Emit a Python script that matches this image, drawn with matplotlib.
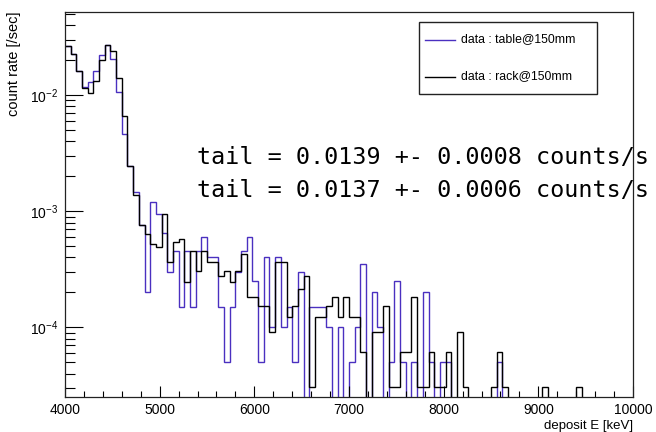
import numpy as np
import matplotlib
matplotlib.use("Agg")
import matplotlib.pyplot as plt
from matplotlib.patches import Rectangle
from matplotlib.lines import Line2D
from matplotlib.ticker import LogLocator, FixedLocator, LogFormatterSciNotation

# ---------------- data ----------------
e_min, e_max, n_bins = 4000.0, 10000.0, 100          # deposit energy binning [keV]

# counts per 60 keV bin, table@150mm (live time in s)
table_livetime = 19880.0
table_counts = [525, 447, 322, 235, 258, 322, 439, 537, 404, 213,
                92, 49, 29, 15, 4, 24, 19, 13, 6, 9,
                3, 9, 3, 9, 12, 8, 8, 3, 1, 3,
                6, 9, 12, 5, 1, 8, 2, 8, 2, 3,
                1, 6, 0, 3, 3, 3, 2, 0, 2, 0,
                1, 2, 7, 0, 4, 2, 0, 1, 5, 1,
                0, 1, 0, 4, 1, 0, 1, 1, 0, 0,
                0, 0, 0, 0, 0, 0, 1, 0, 0, 0,
                0, 0, 0, 0, 0, 0, 0, 0, 0, 0,
                0, 0, 0, 0, 0, 0, 0, 0, 0, 0]

# counts per 60 keV bin, rack@150mm (live time in s)
rack_livetime = 32790.0
rack_counts = [866, 738, 531, 380, 344, 433, 656, 885, 784, 459,
               216, 80, 45, 25, 21, 17, 16, 31, 12, 18,
               19, 8, 15, 10, 15, 12, 12, 9, 10, 8,
               10, 14, 6, 6, 5, 5, 3, 12, 12, 4,
               5, 7, 9, 1, 4, 4, 5, 6, 4, 6,
               4, 4, 2, 0, 3, 3, 5, 1, 1, 2,
               2, 6, 1, 1, 2, 1, 1, 2, 0, 3,
               1, 0, 0, 0, 0, 1, 2, 1, 0, 0,
               0, 0, 0, 0, 1, 0, 0, 0, 0, 0,
               1, 0, 0, 0, 0, 0, 0, 0, 0, 0]

labels = ["data : table@150mm", "data : rack@150mm"]
tail_texts = ["tail = 0.0139 +- 0.0008 counts/s",
              "tail = 0.0137 +- 0.0006 counts/s"]
x_ticks = [4000, 5000, 6000, 7000, 8000, 9000, 10000]

# ---------------- styling ----------------
W, H = 656, 432
plt.rcParams['font.family'] = ['Liberation Sans', 'DejaVu Sans']
plt.rcParams['mathtext.fontset'] = 'custom'
plt.rcParams['mathtext.rm'] = 'Liberation Sans'
plt.rcParams['mathtext.it'] = 'Liberation Sans:italic'

blue = '#4a30c0'
black = '#000000'

fig = plt.figure(figsize=(W / 100, H / 100), dpi=100)
L, R, T, B = 65, 633, 12, 396.5
ax = fig.add_axes([L / W, 1 - B / H, (R - L) / W, (B - T) / H])

edges = np.linspace(e_min, e_max, n_bins + 1)
for counts, live, col in [(table_counts, table_livetime, blue),
                          (rack_counts, rack_livetime, black)]:
    rate = np.asarray(counts, float) / live
    rate = np.where(rate > 0, rate, 1e-12)
    ax.stairs(rate, edges, baseline=None, color=col, lw=1.0)

ax.set_yscale('log')
ax.set_xlim(e_min, e_max)
ax.set_ylim(2.54e-5, 0.052)

# ticks (ROOT style: inside, left & bottom only)
ax.xaxis.set_major_locator(FixedLocator(x_ticks))
ax.xaxis.set_minor_locator(FixedLocator(np.arange(4000, 10001, 200)))
ax.set_xticklabels([str(t) for t in x_ticks])
ax.yaxis.set_major_locator(LogLocator(base=10, numticks=10))
ax.yaxis.set_minor_locator(LogLocator(base=10, subs=np.arange(2, 10), numticks=20))
ax.yaxis.set_major_formatter(LogFormatterSciNotation())
ax.yaxis.set_minor_formatter(plt.NullFormatter())
ax.tick_params(axis='x', which='major', direction='in', length=8, width=0.8,
               labelsize=10, pad=5, top=False)
ax.tick_params(axis='x', which='minor', direction='in', length=4, width=0.8, top=False)
ax.tick_params(axis='y', which='major', direction='in', length=13, width=0.8,
               labelsize=10, pad=5, right=False)
ax.tick_params(axis='y', which='minor', direction='in', length=7, width=0.8, right=False)
for s in ax.spines.values():
    s.set_linewidth(0.9)
    s.set_color('#222222')

# axis titles (ROOT: aligned to axis ends)
fig.text(R / W, 1 - 426 / H, "deposit E [keV]", ha='right', va='center', fontsize=9.5)
fig.text(14 / W, 1 - 11 / H, "count rate [/sec]", ha='center', va='top',
         rotation=90, fontsize=10.5)

# legend box
fig.patches.append(Rectangle((419 / W, 1 - 94 / H), (597 - 419) / W, (94 - 22) / H,
                             transform=fig.transFigure, facecolor='white',
                             edgecolor='#222222', lw=1.0, zorder=5))
for i, (lab, col) in enumerate(zip(labels, [blue, black])):
    yy = 1 - (39.5 + 37 * i) / H
    fig.lines.append(Line2D([425 / W, 455 / W], [yy, yy], transform=fig.transFigure,
                            color=col, lw=1.0, zorder=6))
    fig.text(461 / W, yy, lab, ha='left', va='center', fontsize=8.8, zorder=7)

# tail annotations
for i, txt in enumerate(tail_texts):
    fig.text(197 / W, 1 - (164 + 33 * i) / H, txt, ha='left', va='baseline',
             fontsize=16.8, family='DejaVu Sans Mono')

fig.savefig("out.png", dpi=100)
